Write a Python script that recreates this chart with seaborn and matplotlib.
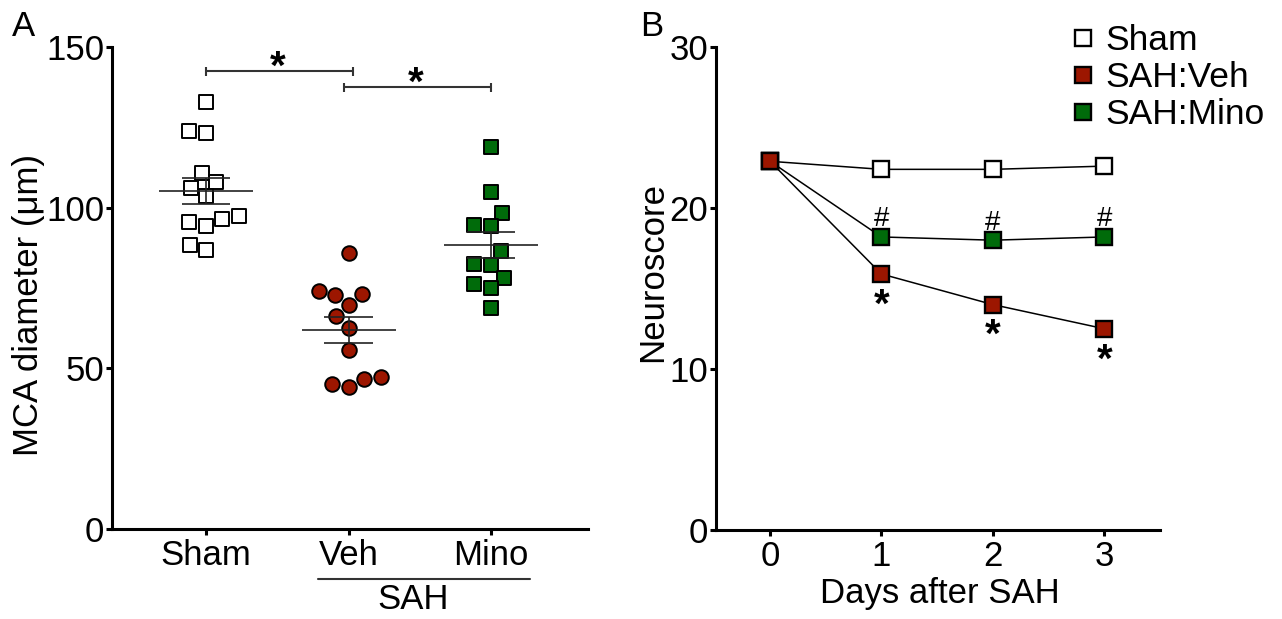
import matplotlib
matplotlib.use("Agg")
import matplotlib.pyplot as plt
import matplotlib.transforms as mtransforms
from matplotlib.lines import Line2D
import numpy as np
import pandas as pd
import seaborn as sns

# panel A: MCA diameter (um) per animal
groups = ["Sham", "Veh", "Mino"]
sham_diam = [133.0, 123.3, 124.0, 110.9, 107.9, 106.0, 103.7, 97.4, 95.6, 96.4, 94.4, 86.8, 88.4]
veh_diam = [85.8, 74.1, 72.8, 73.1, 69.7, 66.3, 62.7, 55.7, 46.6, 44.1, 45.1, 47.4]
mino_diam = [118.8, 105.0, 98.3, 94.6, 94.3, 86.5, 82.4, 82.2, 78.2, 74.9, 76.2, 68.7]

# panel B: neuroscore over days
days = [0, 1, 2, 3]
sham_score = [22.9, 22.4, 22.4, 22.6]
veh_score = [22.9, 15.9, 14.0, 12.5]
mino_score = [22.9, 18.2, 18.0, 18.2]

RED = "#9c1600"
GREEN = "#006b0a"

sns.set_style("ticks")
plt.rcParams["font.family"] = ["Liberation Sans", "DejaVu Sans"]
plt.rcParams["axes.linewidth"] = 2.2
for k in ["text.color", "axes.labelcolor", "xtick.color", "ytick.color", "axes.edgecolor"]:
    plt.rcParams[k] = "black"

df = pd.DataFrame({
    "group": ["Sham"] * len(sham_diam) + ["Veh"] * len(veh_diam) + ["Mino"] * len(mino_diam),
    "diameter": sham_diam + veh_diam + mino_diam,
})

fig = plt.figure(figsize=(12.82, 6.19), dpi=100)
ax1 = fig.add_axes([0.0874, 0.1454, 0.3713, 0.7787])
ax2 = fig.add_axes([0.5585, 0.1438, 0.3463, 0.7803])

# ---- panel A ----
styles = {"Sham": ("s", "white"), "Veh": ("o", RED), "Mino": ("s", GREEN)}
for g in groups:
    marker, face = styles[g]
    sns.swarmplot(data=df[df["group"] == g], x="group", y="diameter", order=groups,
                  marker=marker, color=face, edgecolor="black", linewidth=1.4,
                  size=10.5, ax=ax1, zorder=3)

stats = df.groupby("group")["diameter"].agg(["mean", "sem"])
for i, g in enumerate(groups):
    m, s = stats.loc[g, "mean"], stats.loc[g, "sem"]
    ax1.hlines(m, i - 0.33, i + 0.33, color="#222222", lw=1.2, zorder=5)
    ax1.hlines([m - s, m + s], i - 0.17, i + 0.17, color="#222222", lw=1.2, zorder=5)
    ax1.vlines(i, m - s, m + s, color="#222222", lw=1.2, zorder=5)

# significance brackets
for x0, x1, yb, xs in [(0, 1.03, 142.5, 0.505), (0.97, 2.0, 137.5, 1.47)]:
    ax1.plot([x0, x1], [yb, yb], color="#333333", lw=1.5, clip_on=False)
    ax1.vlines([x0, x1], yb - 1.4, yb + 1.4, color="#333333", lw=1.5, clip_on=False)
    ax1.text(xs, yb - 2.3, "*", ha="center", va="baseline", fontsize=29,
             fontweight="bold")

ax1.set_xlim(-0.66, 2.68)
ax1.set_ylim(0, 150)
ax1.set_yticks([0, 50, 100, 150])
ax1.set_xlabel("")
ax1.set_ylabel("MCA diameter (μm)", fontsize=25)
ax1.yaxis.set_label_coords(-0.14, 0.465)
ax1.tick_params(axis="both", direction="out", length=4.5, width=2.2, labelsize=25)
ax1.tick_params(axis="y", pad=1)
ax1.tick_params(axis="x", pad=3)

trans = mtransforms.blended_transform_factory(ax1.transData, ax1.transAxes)
ax1.plot([0.786, 2.27], [-0.104, -0.104], color="#333333", lw=1.5,
         transform=trans, clip_on=False)
ax1.text(1.45, -0.167, "SAH", ha="center", va="baseline", fontsize=25, transform=trans)

# ---- panel B ----
series = [("Sham", sham_score, "white"), ("SAH:Mino", mino_score, GREEN),
          ("SAH:Veh", veh_score, RED)]
for name, vals, face in series:
    sns.lineplot(x=days, y=vals, color="black", lw=1.1, marker="s", markersize=11.5,
                 markerfacecolor=face, markeredgecolor="black", markeredgewidth=1.7,
                 ax=ax2, zorder=3)

for d, v in zip(days[1:], mino_score[1:]):
    ax2.text(d, v + 0.66, "#", ha="center", va="baseline", fontsize=20)
for d, v in zip(days[1:], veh_score[1:]):
    ax2.text(d, v - 2.65, "*", ha="center", va="baseline", fontsize=29, fontweight="bold")

ax2.set_xlim(-0.485, 3.5)
ax2.set_ylim(0, 30)
ax2.set_xticks(days)
ax2.set_yticks([0, 10, 20, 30])
ax2.set_xlabel("Days after SAH", fontsize=25)
ax2.set_ylabel("Neuroscore", fontsize=25)
ax2.xaxis.set_label_coords(0.505, -0.097)
ax2.yaxis.set_label_coords(-0.106, 0.535)
ax2.tick_params(axis="both", direction="out", length=4.5, width=2.2, labelsize=25)
ax2.tick_params(axis="y", pad=1)
ax2.tick_params(axis="x", pad=3)

handles = [Line2D([], [], ls="none", marker="s", markersize=11, markerfacecolor=f,
                  markeredgecolor="black", markeredgewidth=1.7)
           for f in ["white", RED, GREEN]]
fig.legend(handles, ["Sham", "SAH:Veh", "SAH:Mino"], loc="upper left",
           bbox_to_anchor=(1072 / 1282, 1 - 24 / 619), frameon=False, fontsize=25.5,
           handlelength=0.6, handletextpad=0.35, labelspacing=0.12, borderpad=0,
           borderaxespad=0)

for ax in (ax1, ax2):
    sns.despine(ax=ax)

fig.text(12 / 1282, 1 - 26 / 619, "A", fontsize=25, va="center", ha="left")
fig.text(640 / 1282, 1 - 26 / 619, "B", fontsize=25, va="center", ha="left")

fig.savefig("out.png", dpi=100)
